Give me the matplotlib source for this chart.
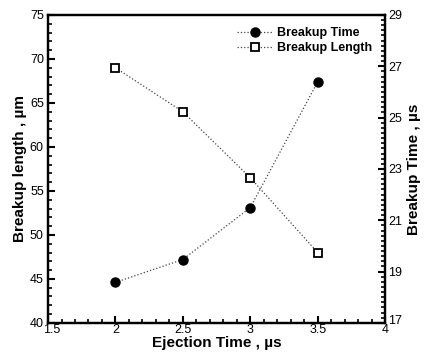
import matplotlib
matplotlib.use("Agg")
import matplotlib.pyplot as plt
from matplotlib.ticker import MultipleLocator, FixedLocator
from matplotlib.transforms import ScaledTranslation
import numpy as np

plt.rcParams['font.family'] = ['Liberation Sans', 'DejaVu Sans']

ejection_time = [2.0, 2.5, 3.0, 3.5]
breakup_length = [69.0, 64.0, 56.5, 48.0]
breakup_time = [18.58, 19.47, 21.49, 26.39]

fig = plt.figure(figsize=(4.25, 3.56), dpi=100)
ax = fig.add_axes([0.113, 0.093, 0.793, 0.865])
ax2 = ax.twinx()

l1, = ax2.plot(ejection_time, breakup_time, linestyle=':', color='#444444', lw=0.9,
               marker='o', markersize=6.5, markerfacecolor='black', markeredgecolor='black',
               label='Breakup Time')
l2, = ax.plot(ejection_time, breakup_length, linestyle=':', color='#444444', lw=0.9,
              marker='s', markersize=6, markerfacecolor='white', markeredgecolor='black',
              markeredgewidth=1.3, label='Breakup Length')

ax.set_xlim(1.5, 4)
ax.set_ylim(40, 75)
ax2.set_ylim(17, 29)
ax.xaxis.set_major_locator(MultipleLocator(0.5))
ax.xaxis.set_minor_locator(MultipleLocator(0.1))
ax.yaxis.set_major_locator(MultipleLocator(5))
ax.yaxis.set_minor_locator(MultipleLocator(1))
ax2.yaxis.set_major_locator(FixedLocator([17, 19, 21, 23, 25, 27, 29]))
ax2.yaxis.set_minor_locator(FixedLocator(np.arange(17, 29.01, 0.2)))
ax.set_xticks([1.5, 2, 2.5, 3, 3.5, 4])
ax.set_xticklabels(['1.5', '2', '2.5', '3', '3.5', '4'])

for a in (ax, ax2):
    a.tick_params(which='major', direction='in', length=5, width=1.5, labelsize=9, pad=2)
    a.tick_params(which='minor', direction='in', length=3, width=1.2)
    for s in a.spines.values():
        s.set_linewidth(1.6)
ax.tick_params(axis='x', pad=1)
ax.tick_params(axis='y', pad=3)

# nudge corner labels apart as in the reference
fig.canvas.draw()
xl = ax.get_xticklabels()
xl[0].set_transform(xl[0].get_transform() + ScaledTranslation(4/100, 0, fig.dpi_scale_trans))
yl = ax.get_yticklabels()
yl[0].set_transform(yl[0].get_transform() + ScaledTranslation(0, 3/100, fig.dpi_scale_trans))
yr = ax2.get_yticklabels()
yr[0].set_transform(yr[0].get_transform() + ScaledTranslation(0, 3/100, fig.dpi_scale_trans))

ax.set_xlabel('Ejection Time , \u00b5s', fontsize=11, fontweight='bold', labelpad=0)
ax.set_ylabel('Breakup length , \u00b5m', fontsize=11, fontweight='bold', labelpad=2)
ax2.set_ylabel('Breakup Time , \u00b5s', fontsize=11, fontweight='bold', labelpad=4)

ax.legend([l1, l2], ['Breakup Time', 'Breakup Length'], loc='upper right', frameon=False,
          prop={'weight': 'bold', 'size': 9}, handlelength=2.8, borderaxespad=0.6,
          labelspacing=0.2, handletextpad=0.4)

fig.savefig('out.png', dpi=100)
